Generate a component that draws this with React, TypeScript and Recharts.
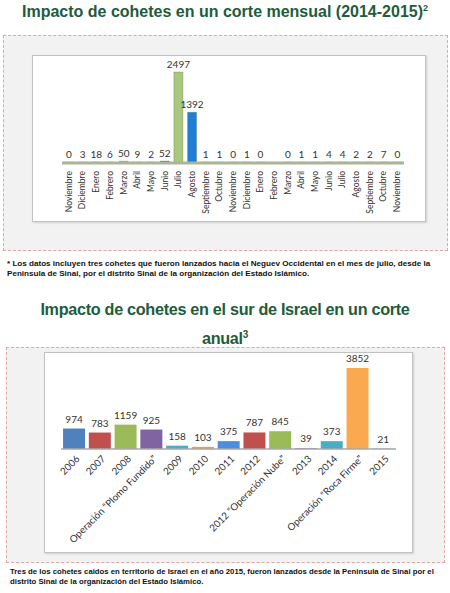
import { BarChart, Bar, XAxis, YAxis, Cell, LabelList } from "recharts";

const months = [
  "Noviembre", "Diciembre", "Enero", "Febrero", "Marzo", "Abril", "Mayo", "Junio",
  "Julio", "Agosto", "Septiembre", "Octubre", "Noviembre", "Diciembre", "Enero",
  "Febrero", "Marzo", "Abril", "Mayo", "Junio", "Julio", "Agosto", "Septiembre",
  "Octubre", "Noviembre",
];
const monthlyRockets: (number | null)[] = [
  0, 3, 18, 6, 50, 9, 2, 52, 2497, 1392, 1, 1, 0, 1, 0, null, 0, 1, 1, 4, 4, 2, 2, 7, 0,
];

const periods = [
  "2006", "2007", "2008", "Operación \u201cPlomo Fundido\u201d", "2009", "2010", "2011",
  "2012", "2012 \u201cOperación Nube\u201d", "2013", "2014", "Operación \u201cRoca Firme\u201d", "2015",
];
const yearlyRockets = [974, 783, 1159, 925, 158, 103, 375, 787, 845, 39, 373, 3852, 21];

const monthColors = [
  "#8fa37a", "#9bbb59", "#9bbb59", "#4bacc6", "#9bbb59", "#4bacc6", "#4bacc6", "#1f6fbf",
  "#a9c77f", "#1f7fd6", "#9bbb59", "#4bacc6", "#4bacc6", "#9bbb59", "#9bbb59",
  "#9bbb59", "#9bbb59", "#9bbb59", "#9bbb59", "#9bbb59", "#9bbb59", "#9bbb59", "#9bbb59",
  "#9bbb59", "#9bbb59",
];
const yearColors = [
  "#4f81bd", "#c0504d", "#9bbb59", "#8064a2", "#4bacc6", "#f79646", "#4a8fe0",
  "#c0504d", "#9bbb59", "#8064a2", "#4bacc6", "#fba950", "#8ea9c1",
];

const monthlyData = months.map((m, i) => ({ name: m, value: monthlyRockets[i] }));
const yearlyData = periods.map((p, i) => ({ name: p, value: yearlyRockets[i] }));

const chartFont = "Lato, 'Open Sans', sans-serif";
const titleColor = "#1e5c3c";

const VerticalTick = (props: any) => {
  const { x, y, payload } = props;
  return (
    <text
      x={x}
      y={y}
      dy="0.35em"
      textAnchor="end"
      transform={`rotate(-90, ${x}, ${y})`}
      fontSize={8.5}
      fontFamily={chartFont}
      fill="#333"
    >
      {payload.value}
    </text>
  );
};

const SlantTick = (props: any) => {
  const { x, y, payload } = props;
  const ax = x + 4;
  return (
    <text
      x={ax}
      y={y}
      dy="0.35em"
      textAnchor="end"
      transform={`rotate(-45, ${ax}, ${y})`}
      fontSize={9.8}
      fontFamily={chartFont}
      fill="#333"
    >
      {payload.value}
    </text>
  );
};

const outerBox = {
  position: "absolute" as const,
  background: "#f2f2f2",
  border: "1px dashed #e2a6a6",
};
const innerBox = {
  position: "absolute" as const,
  background: "#fff",
  border: "1px solid #c2c2c2",
  boxShadow: "1px 1px 2px rgba(0,0,0,0.15)",
};
const noteStyle = {
  position: "absolute" as const,
  whiteSpace: "nowrap" as const,
  fontFamily: "'Liberation Sans', Arial, sans-serif",
  fontWeight: 700,
  fontSize: 8.1,
  lineHeight: "10px",
  color: "#111",
};

export default function App() {
  return (
    <div
      style={{
        position: "absolute",
        left: 0,
        top: 0,
        width: 450,
        height: 593,
        background: "#fff",
        overflow: "hidden",
      }}
    >
      <div
        style={{
          position: "absolute",
          top: 3,
          left: 0,
          width: 450,
          textAlign: "center",
          fontFamily: "'Liberation Sans', Arial, sans-serif",
          fontWeight: 700,
          fontSize: 16,
          color: titleColor,
        }}
      >
        Impacto de cohetes en un corte mensual (2014-2015)<sup style={{ fontSize: 9 }}>2</sup>
      </div>

      <div style={{ ...outerBox, left: 3, top: 35, width: 443, height: 214 }} />
      <div style={{ ...innerBox, left: 32, top: 55, width: 392, height: 165 }}>
        <BarChart
          width={392}
          height={165}
          data={monthlyData}
          margin={{ top: 16, right: 21, left: 29, bottom: 0 }}
          barCategoryGap="18%"
        >
          <XAxis
            dataKey="name"
            interval={0}
            height={58}
            tickSize={0}
            tickMargin={8}
            axisLine={{ stroke: "#a9b596", strokeWidth: 3 }}
            tick={<VerticalTick />}
          />
          <YAxis hide domain={[0, 2497]} />
          <Bar
            dataKey="value"
            isAnimationActive={false}
            minPointSize={1}
            stroke="#5f7a3a"
            strokeOpacity={0.35}
          >
            {monthlyData.map((d, i) => (
              <Cell key={`m-${i}`} fill={monthColors[i]} />
            ))}
            <LabelList
              dataKey="value"
              position="top"
              offset={4}
              fontSize={10}
              fontFamily={chartFont}
              fill="#333"
            />
          </Bar>
        </BarChart>
      </div>

      <div style={{ ...noteStyle, left: 7, top: 259 }}>
        * Los datos incluyen tres cohetes que fueron lanzados hacia el Neguev Occidental en el mes de julio, desde la
        <br />
        Peninsula de Sinai, por el distrito Sinai de la organización del Estado Islámico.
      </div>

      <div
        style={{
          position: "absolute",
          top: 297,
          left: 0,
          width: 450,
          textAlign: "center",
          fontFamily: "'Liberation Sans', Arial, sans-serif",
          fontWeight: 700,
          fontSize: 16.2,
          letterSpacing: -0.3,
          lineHeight: "25px",
          color: titleColor,
        }}
      >
        Impacto de cohetes en el sur de Israel en un corte
        <br />
        anual<sup style={{ fontSize: 10 }}>3</sup>
      </div>

      <div style={{ ...outerBox, left: 6, top: 347, width: 437, height: 214 }} />
      <div style={{ ...innerBox, left: 44, top: 352, width: 367, height: 199 }}>
        <BarChart
          width={367}
          height={199}
          data={yearlyData}
          margin={{ top: 15, right: 16, left: 16, bottom: 0 }}
          barCategoryGap="8%"
        >
          <XAxis
            dataKey="name"
            interval={0}
            height={103}
            tickSize={0}
            tickMargin={8}
            axisLine={{ stroke: "#a8a8a8", strokeWidth: 1.5 }}
            tick={<SlantTick />}
          />
          <YAxis hide domain={[0, 3852]} />
          <Bar dataKey="value" isAnimationActive={false}>
            {yearlyData.map((d, i) => (
              <Cell key={`y-${i}`} fill={yearColors[i]} />
            ))}
            <LabelList
              dataKey="value"
              position="top"
              offset={6}
              fontSize={10}
              fontFamily={chartFont}
              fill="#333"
            />
          </Bar>
        </BarChart>
      </div>

      <div style={{ ...noteStyle, left: 10, top: 567, fontSize: 7.75 }}>
        Tres de los cohetes caidos en territorio de Israel en el año 2015, fueron lanzados desde la Peninsula de Sinai por el
        <br />
        distrito Sinai de la organización del Estado Islámico.
      </div>
    </div>
  );
}
